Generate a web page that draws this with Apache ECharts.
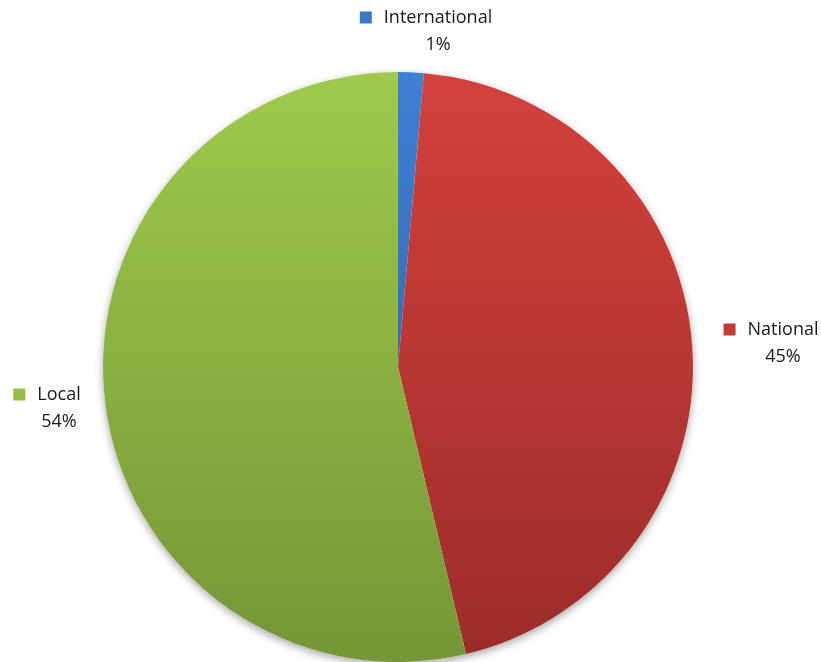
<!DOCTYPE html>
<html>
<head>
<meta charset="utf-8">
<script src="https://cdn.jsdelivr.net/npm/echarts@6/dist/echarts.min.js"></script>
<style>
  html, body { margin: 0; padding: 0; background: #fff; }
  #chart { width: 821px; height: 662px; }
</style>
</head>
<body>
<div id="chart"></div>
<script>
(function () {
  'use strict';

  // data
  var names = ['International', 'National', 'Local'];
  var values = [1.4, 44.9, 53.7];

  // slice colours (top -> bottom of each slice)
  var topColors = ['#3f80d4', '#d3413d', '#9fca4c'];
  var bottomColors = ['#356db6', '#9c2c29', '#759638'];
  var markColors = ['#3b78c6', '#c23b37', '#93bd48'];
  // label anchor points (centre of each label block)
  var labelAt = [[426, 31], [771, 343], [47, 408]];

  var chart = echarts.init(document.getElementById('chart'));

  var font = '"Open Sans", sans-serif';
  var rich = {
    n: { fontSize: 18, color: '#1a1a1a', fontFamily: font, lineHeight: 27 },
    p: { fontSize: 18, color: '#1a1a1a', fontFamily: font, lineHeight: 27 },
    sp: { width: 24, height: 12 }
  };
  markColors.forEach(function (c, i) {
    rich['m' + i] = { width: 12, height: 12, backgroundColor: c };
    rich['g' + i] = { width: 12, height: 12 };
  });

  var data = names.map(function (name, i) {
    return {
      name: name,
      value: values[i],
      itemStyle: {
        color: new echarts.graphic.LinearGradient(0, 0, 0, 1, [
          { offset: 0, color: topColors[i] },
          { offset: 1, color: bottomColors[i] }
        ])
      }
    };
  });

  var option = {
    animation: false,
    backgroundColor: '#fff',
    series: [{
      // shadow under the pie
      type: 'pie',
      silent: true,
      z: 1,
      center: [398, 367],
      radius: 295,
      label: { show: false },
      labelLine: { show: false },
      data: [{
        value: 1,
        itemStyle: {
          color: '#fff',
          shadowBlur: 8,
          shadowOffsetY: 3,
          shadowColor: 'rgba(0,0,0,0.35)'
        }
      }]
    }, {
      type: 'pie',
      z: 2,
      center: [398, 367],
      radius: 295,
      startAngle: 90,
      clockwise: true,
      itemStyle: { borderWidth: 0 },
      labelLine: { show: false, length: 20, length2: 0 },
      label: {
        show: true,
        position: 'outside',
        align: 'center',
        overflow: 'none',
        formatter: function (p) {
          var i = p.dataIndex;
          return '{m' + i + '|}{g' + i + '|}{n|' + p.name + '}\n{sp|}{p|' +
            Math.round(p.percent) + '%}';
        },
        rich: rich
      },
      labelLayout: function (params) {
        var pos = labelAt[params.dataIndex];
        return {
          x: pos[0],
          y: pos[1],
          align: 'center',
          verticalAlign: 'middle'
        };
      },
      data: data
    }]
  };

  chart.setOption(option);
}());
</script>
</body>
</html>
